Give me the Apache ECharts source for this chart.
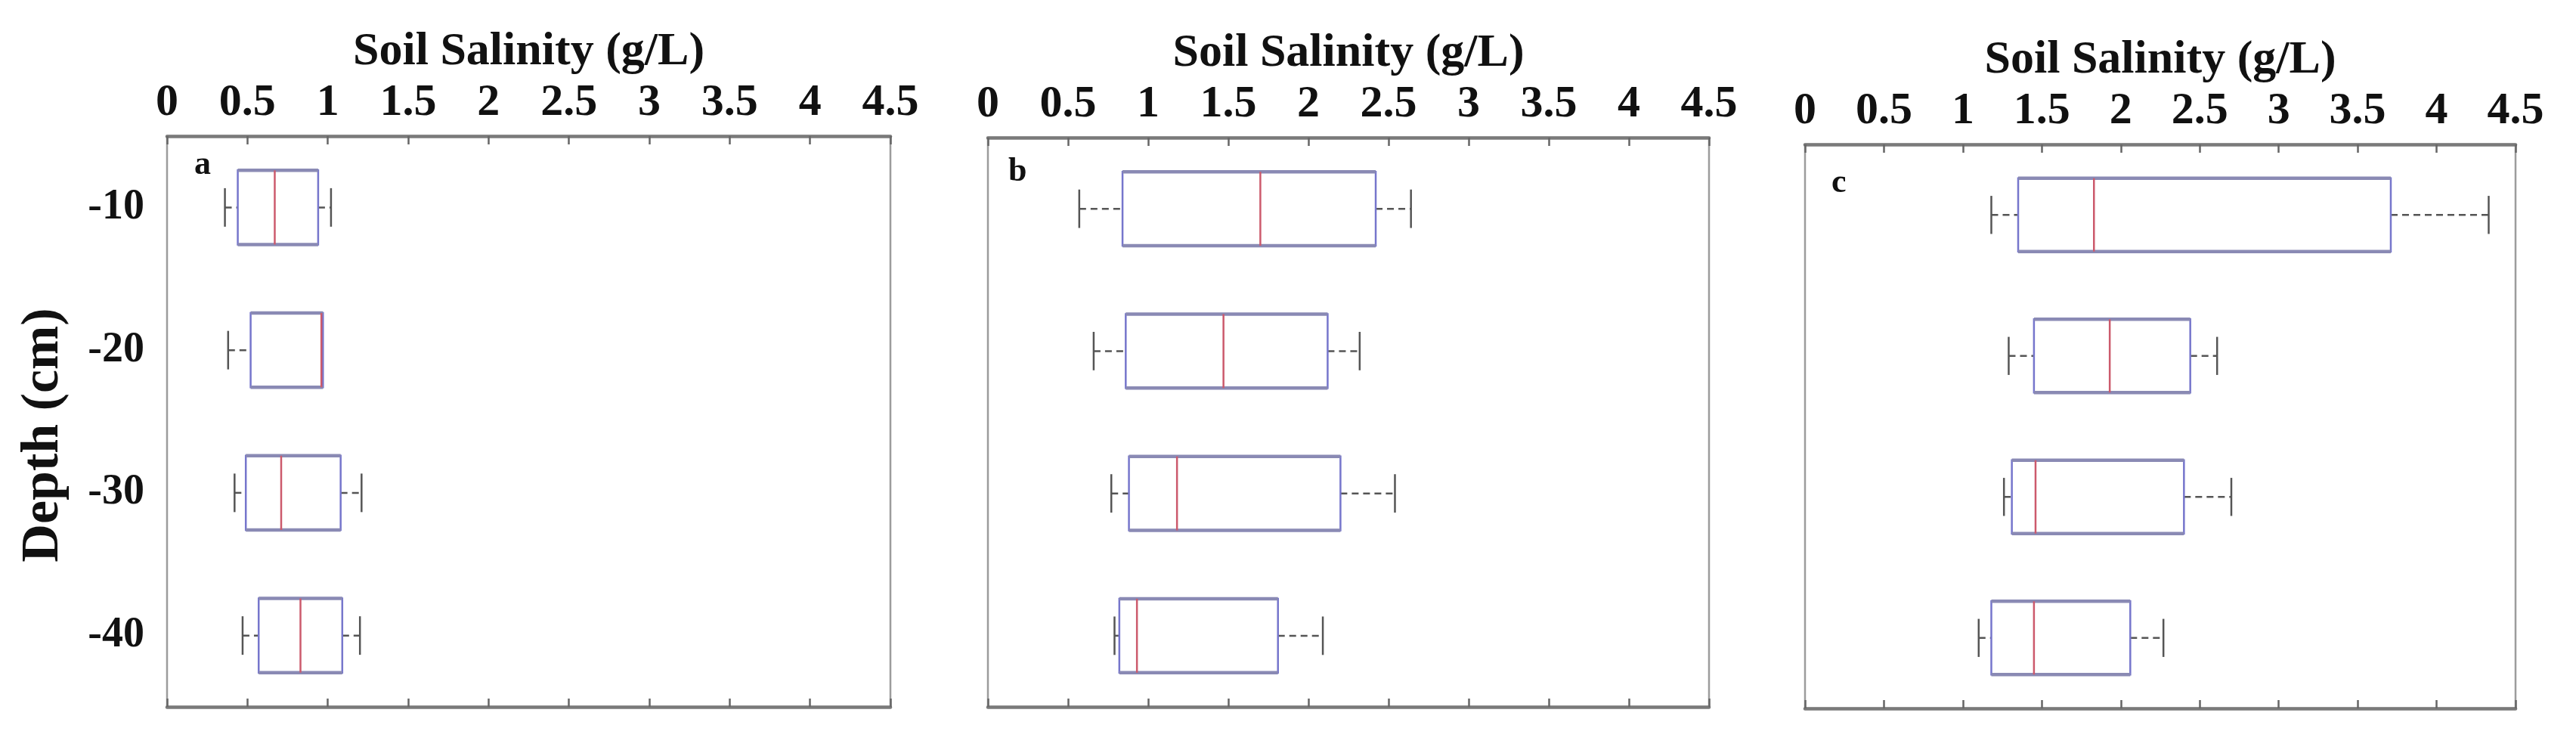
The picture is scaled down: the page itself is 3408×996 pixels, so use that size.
<!DOCTYPE html>
<html>
<head>
<meta charset="utf-8">
<script src="https://cdn.jsdelivr.net/npm/echarts@6/dist/echarts.min.js"></script>
<style>
html,body{margin:0;padding:0;background:#fff;}
#chart{width:3408px;height:996px;}
</style>
</head>
<body>
<div id="chart"></div>
<script>
// ---- data ----
const depths = ['-10', '-20', '-30', '-40'];
const xTicks = [0, 0.5, 1, 1.5, 2, 2.5, 3, 3.5, 4, 4.5];
const panelLabels = ['a', 'b', 'c'];

const aMin = [0.36, 0.38, 0.42, 0.47];
const aQ1  = [0.44, 0.52, 0.49, 0.57];
const aMed = [0.67, 0.96, 0.71, 0.83];
const aQ3  = [0.94, 0.97, 1.08, 1.09];
const aMax = [1.02, 0.97, 1.21, 1.20];

const bMin = [0.57, 0.66, 0.77, 0.79];
const bQ1  = [0.84, 0.86, 0.88, 0.82];
const bMed = [1.70, 1.47, 1.18, 0.93];
const bQ3  = [2.42, 2.12, 2.20, 1.81];
const bMax = [2.64, 2.32, 2.54, 2.09];

const cMin = [1.18, 1.29, 1.26, 1.10];
const cQ1  = [1.35, 1.45, 1.31, 1.18];
const cMed = [1.83, 1.93, 1.46, 1.45];
const cQ3  = [3.71, 2.44, 2.40, 2.06];
const cMax = [4.33, 2.61, 2.70, 2.27];

const panels = [
  [aMin, aQ1, aMed, aQ3, aMax],
  [bMin, bQ1, bMed, bQ3, bMax],
  [cMin, cQ1, cMed, cQ3, cMax]
];

// ---- layout / style ----
const FONT = '"Liberation Serif", "Times New Roman", serif';
const grids = [
  {left: 221, top: 180, width: 957, height: 755},
  {left: 1307, top: 182, width: 954, height: 753},
  {left: 2388, top: 191, width: 940, height: 746}
];
const labelPos = [[257, 219], [1334, 228], [2423, 243]];

const BOX = '#7676cc';
const BOX_EDGE = '#8a8ab4';
const MED = '#cc5a6c';
const WHISK = '#555555';

function renderBox(params, api) {
  const cat = api.value(0);
  const lo = api.coord([api.value(1), cat]);
  const q1 = api.coord([api.value(2), cat]);
  const md = api.coord([api.value(3), cat]);
  const q3 = api.coord([api.value(4), cat]);
  const hi = api.coord([api.value(5), cat]);
  const band = api.size([0, 1])[1];
  const bh = band * 0.52;
  const ch = band * 0.27;
  const y = q1[1];
  const yt = y - bh / 2, yb = y + bh / 2;
  const children = [];
  const dash = {stroke: WHISK, lineWidth: 2.5, lineDash: [9, 6]};
  if (q1[0] - lo[0] > 0.5) {
    children.push({type: 'line', shape: {x1: lo[0], y1: y, x2: q1[0], y2: y}, style: dash});
  }
  if (hi[0] - q3[0] > 0.5) {
    children.push({type: 'line', shape: {x1: q3[0], y1: y, x2: hi[0], y2: y}, style: dash});
  }
  children.push({type: 'line', shape: {x1: lo[0], y1: y - ch / 2, x2: lo[0], y2: y + ch / 2},
    style: {stroke: WHISK, lineWidth: 2.5}});
  if (hi[0] - q3[0] > 0.5) {
    children.push({type: 'line', shape: {x1: hi[0], y1: y - ch / 2, x2: hi[0], y2: y + ch / 2},
      style: {stroke: WHISK, lineWidth: 2.5}});
  }
  children.push({type: 'rect', shape: {x: q1[0], y: yt, width: q3[0] - q1[0], height: bh},
    style: {fill: '#ffffff', stroke: BOX, lineWidth: 2.5}});
  children.push({type: 'line', shape: {x1: q1[0], y1: yt, x2: q3[0], y2: yt},
    style: {stroke: BOX_EDGE, lineWidth: 4.5}});
  children.push({type: 'line', shape: {x1: q1[0], y1: yb, x2: q3[0], y2: yb},
    style: {stroke: BOX_EDGE, lineWidth: 4.5}});
  children.push({type: 'line', shape: {x1: md[0], y1: yt, x2: md[0], y2: yb},
    style: {stroke: MED, lineWidth: 2.5}});
  return {type: 'group', children: children};
}

const option = {
  backgroundColor: '#ffffff',
  animation: false,
  grid: grids.map(g => Object.assign({show: true, borderColor: '#9c9c9c', borderWidth: 2.5,
    backgroundColor: 'transparent', containLabel: false}, g)),
  xAxis: [],
  yAxis: [],
  series: [],
  graphic: panelLabels.map((t, i) => ({
    type: 'text', x: labelPos[i][0], y: labelPos[i][1],
    style: {text: t, font: 'bold 44px ' + FONT, fill: '#111', verticalAlign: 'middle', align: 'left'}
  }))
};

panels.forEach((p, i) => {
  option.xAxis.push({
    gridIndex: i, type: 'value', position: 'top', min: xTicks[0], max: xTicks[xTicks.length - 1],
    interval: xTicks[1] - xTicks[0],
    name: 'Soil Salinity (g/L)', nameLocation: 'middle', nameGap: 80,
    nameTextStyle: {fontFamily: FONT, fontWeight: 'bold', fontSize: 62, color: '#111'},
    axisLine: {show: true, lineStyle: {color: '#7a7a7a', width: 4.5}},
    axisTick: {show: true, inside: true, length: 11, lineStyle: {color: '#666', width: 2.5}},
    axisLabel: {show: true, margin: 14, fontFamily: FONT, fontWeight: 'bold', fontSize: 60, color: '#111',
      formatter: v => String(v)},
    splitLine: {show: false}
  });
  option.xAxis.push({
    gridIndex: i, type: 'value', position: 'bottom', min: xTicks[0], max: xTicks[xTicks.length - 1],
    interval: xTicks[1] - xTicks[0],
    axisLine: {show: true, lineStyle: {color: '#7a7a7a', width: 4.5}},
    axisTick: {show: true, inside: true, length: 11, lineStyle: {color: '#666', width: 2.5}},
    axisLabel: {show: false},
    splitLine: {show: false}
  });
  option.yAxis.push({
    gridIndex: i, type: 'category', data: depths, inverse: true,
    name: i === 0 ? 'Depth (cm)' : '', nameLocation: 'middle', nameGap: 128, nameRotate: 90,
    nameTextStyle: {fontFamily: FONT, fontWeight: 'bold', fontSize: 70, color: '#111', padding: [0, 36, 0, 0]},
    axisLine: {show: false},
    axisTick: {show: false},
    axisLabel: {show: i === 0, margin: 30, fontFamily: FONT, fontWeight: 'bold', fontSize: 56, color: '#111'},
    splitLine: {show: false}
  });
  const data = depths.map((d, k) => [k, p[0][k], p[1][k], p[2][k], p[3][k], p[4][k]]);
  option.series.push({
    type: 'custom', xAxisIndex: i * 2, yAxisIndex: i,
    renderItem: renderBox,
    encode: {x: [1, 2, 3, 4, 5], y: 0},
    data: data,
    clip: false
  });
});

const chart = echarts.init(document.getElementById('chart'), null, {renderer: 'canvas'});
chart.setOption(option);
</script>
</body>
</html>
